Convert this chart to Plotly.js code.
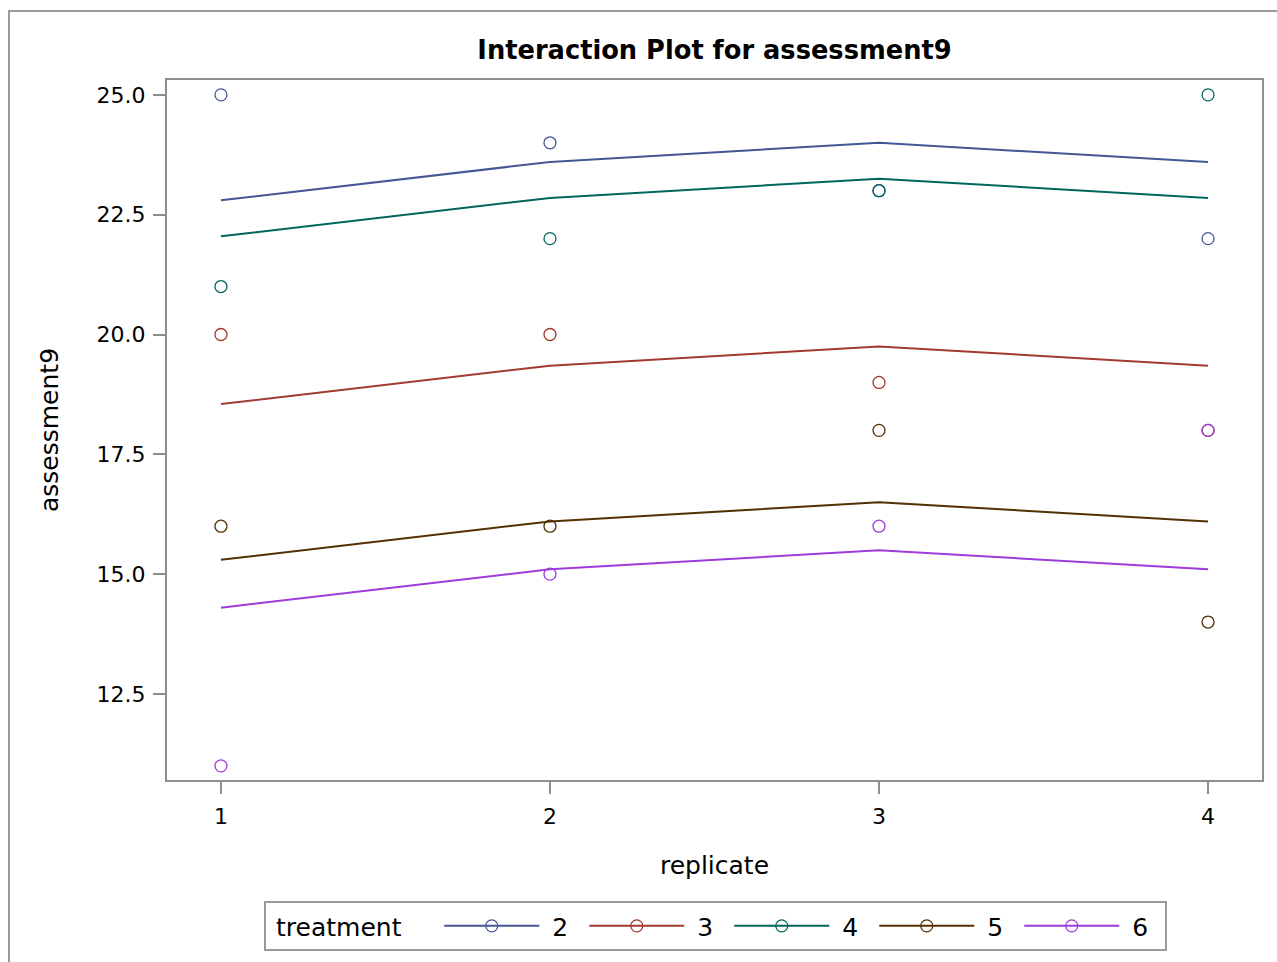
<!DOCTYPE html>
<html>
<head>
<meta charset="utf-8">
<script src="https://cdn.plot.ly/plotly-3.0.1.min.js"></script>
<style>
  html, body { margin: 0; padding: 0; background: #fff; }
  #frame { position: absolute; left: 8px; top: 10px; width: 1300px; height: 1000px; border-left: 2px solid #9a9a9a; border-top: 2px solid #9a9a9a; pointer-events: none; z-index: 5; }
  #chart { position: absolute; left: 0; top: 0; width: 1277px; height: 962px; }
</style>
</head>
<body>
<div id="chart"></div>
<div id="frame"></div>
<script>
// Data
const replicates = [1, 2, 3, 4];
const treatments = ['2', '3', '4', '5', '6'];
// observed values (circles), per treatment, by replicate
const obs2 = [25, 24, 23, 22];
const obs3 = [20, 20, 19, 18];
const obs4 = [21, 22, 23, 25];
const obs5 = [16, 16, 18, 14];
const obs6 = [11, 15, 16, 18];
// fitted values (lines), per treatment, by replicate
const fit2 = [22.8, 23.6, 24.0, 23.6];
const fit3 = [18.55, 19.35, 19.75, 19.35];
const fit4 = [22.05, 22.85, 23.25, 22.85];
const fit5 = [15.3, 16.1, 16.5, 16.1];
const fit6 = [14.3, 15.1, 15.5, 15.1];
const colors = ['#445694', '#A23A2E', '#01665E', '#543005', '#9D3CDB'];

const obs = [obs2, obs3, obs4, obs5, obs6];
const fits = [fit2, fit3, fit4, fit5, fit6];
const FONT = 'DejaVu Sans, sans-serif';
const NB = '\u00a0';

const traces = [];
treatments.forEach((t, i) => {
  traces.push({
    x: replicates, y: fits[i], type: 'scatter', mode: 'lines',
    line: { color: colors[i], width: 2 },
    name: t, legendgroup: t, showlegend: false, hoverinfo: 'skip'
  });
});
treatments.forEach((t, i) => {
  traces.push({
    x: replicates, y: obs[i], type: 'scatter', mode: 'markers',
    marker: { symbol: 'circle-open', size: 12, color: colors[i], line: { width: 1.3, color: colors[i] } },
    name: t, legendgroup: t, showlegend: false
  });
});
// legend entries (line + marker)
treatments.forEach((t, i) => {
  traces.push({
    x: [null], y: [null], type: 'scatter', mode: 'lines+markers',
    line: { color: colors[i], width: 2 },
    marker: { symbol: 'circle-open', size: 12, color: colors[i], line: { width: 1.3, color: colors[i] } },
    name: NB + t, legendgroup: t, showlegend: true
  });
});

const axisLine = '#8f8f8f';
const layout = {
  width: 1277, height: 962,
  margin: { l: 167, r: 15, t: 80, b: 182, autoexpand: false },
  paper_bgcolor: 'rgba(0,0,0,0)', plot_bgcolor: '#fff',
  font: { family: FONT, color: '#000' },
  title: { text: '<b>Interaction Plot for assessment9</b>', font: { family: FONT, size: 25.7, color: '#000' }, x: 0.5595, xanchor: 'center', y: 0.948, yanchor: 'middle' },
  xaxis: {
    range: [0.836, 4.164], tickvals: replicates, ticktext: replicates.map(String),
    showgrid: false, zeroline: false, showline: true, mirror: true, linecolor: axisLine, linewidth: 2,
    ticks: 'outside', ticklen: 12, tickwidth: 2, tickcolor: axisLine, ticklabelstandoff: 4,
    tickfont: { family: FONT, size: 22, color: '#000' },
    title: { text: 'replicate', font: { family: FONT, size: 25, color: '#000' }, standoff: 28 }
  },
  yaxis: {
    range: [10.705, 25.31], tickvals: [12.5, 15, 17.5, 20, 22.5, 25], ticktext: ['12.5', '15.0', '17.5', '20.0', '22.5', '25.0'],
    showgrid: false, zeroline: false, showline: true, mirror: true, linecolor: axisLine, linewidth: 2,
    ticks: 'outside', ticklen: 12, tickwidth: 2, tickcolor: axisLine, ticklabelstandoff: 3,
    tickfont: { family: FONT, size: 22, color: '#000' },
    title: { text: 'assessment9', font: { family: FONT, size: 25, color: '#000' }, standoff: 31 }
  },
  showlegend: true,
  legend: {
    orientation: 'h', x: 0.501, xanchor: 'center', y: -0.173, yanchor: 'top',
    bordercolor: '#9a9a9a', borderwidth: 2, bgcolor: '#fff',
    itemwidth: 95, itemclick: false, entrywidth: 35, entrywidthmode: 'pixels',
    font: { family: FONT, size: 25, color: '#000' },
    title: { text: NB + 'treatment' + NB + NB + NB + NB, side: 'left', font: { family: FONT, size: 25, color: '#000' } }
  }
};

Plotly.newPlot('chart', traces, layout, { displayModeBar: false, staticPlot: true });
</script>
</body>
</html>
